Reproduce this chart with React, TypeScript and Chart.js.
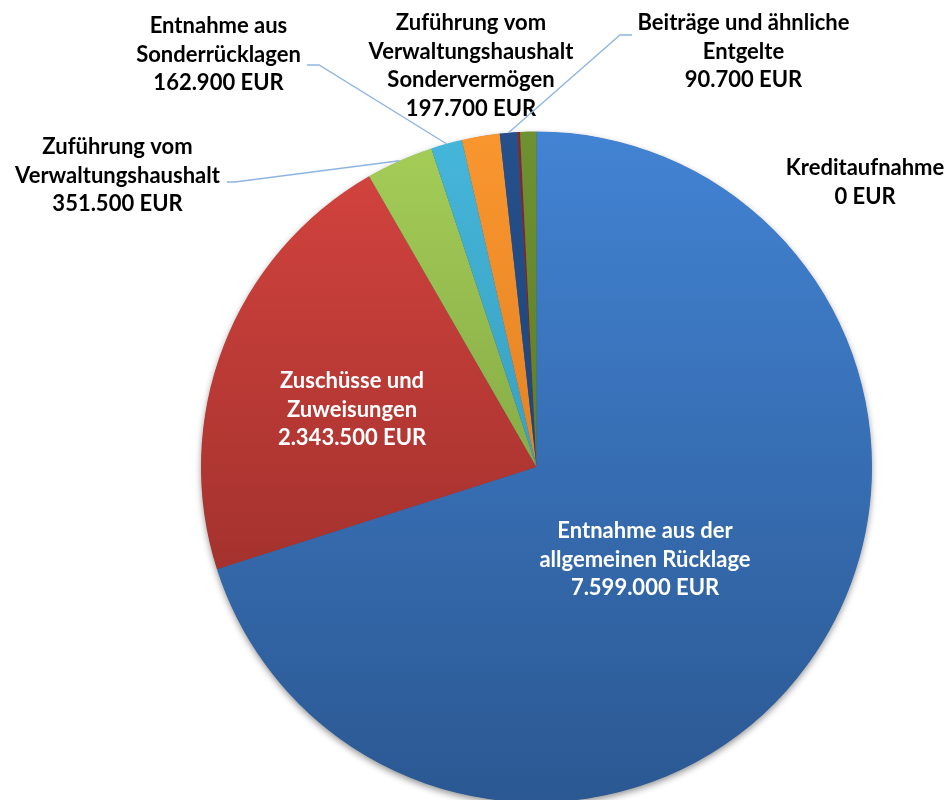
import { useEffect, useRef } from "react";
import { Chart, registerables } from "chart.js";

Chart.register(...registerables);

// ---- data ----
const categories = [
  "Entnahme aus der allgemeinen Rücklage",
  "Zuschüsse und Zuweisungen",
  "Zuführung vom Verwaltungshaushalt",
  "Kreditaufnahme",
  "Entnahme aus Sonderrücklagen",
  "Zuführung vom Verwaltungshaushalt Sondervermögen",
  "Beiträge und ähnliche Entgelte",
  "Sonstige Einnahmen",
  "Weitere Einnahmen",
];
const values = [7599000, 2343500, 351500, 0, 162900, 197700, 90700, 14000, 85000];
const labelLines: string[][] = [
  ["Entnahme aus der", "allgemeinen Rücklage"],
  ["Zuschüsse und", "Zuweisungen"],
  ["Zuführung vom", "Verwaltungshaushalt"],
  ["Kreditaufnahme"],
  ["Entnahme aus", "Sonderrücklagen"],
  ["Zuführung vom", "Verwaltungshaushalt", "Sondervermögen"],
  ["Beiträge und ähnliche", "Entgelte"],
  [],
  [],
];
const currency = "EUR";

// ---- styles ----
const colorsLight = ["#4283D3", "#D6443F", "#A5CE58", "#8064A2", "#45B6DA", "#F9962E", "#25508C", "#8E2522", "#6E9230"];
const colorsDark = ["#2B5892", "#8A2825", "#6A8A35", "#5E4A7A", "#2E8AA8", "#D0701A", "#1A3A68", "#6A1A18", "#4E6A20"];

// label placement relative to pie centre (px): dx = text centre, dy = first line centre
type LabelLayout = { dx: number; dy: number; color: string; leader?: [number, number][] } | null;
const labelLayout: LabelLayout[] = [
  { dx: 108.5, dy: 64, color: "#ffffff" },
  { dx: -184.5, dy: -86, color: "#ffffff" },
  { dx: -419, dy: -320, color: "#000000", leader: [[-301.5, -285], [-309.5, -285]] },
  { dx: 328.5, dy: -299, color: "#000000" },
  { dx: -318, dy: -441, color: "#000000", leader: [[-217.5, -402], [-229.5, -402]] },
  { dx: -65.5, dy: -444, color: "#000000" },
  { dx: 207, dy: -444, color: "#000000", leader: [[83.5, -432], [95.5, -432]] },
  null,
  null,
];
const FONT = "bold 22px Lato, 'Open Sans', sans-serif";
const LINE_H = 28.5;

function fmt(v: number): string {
  return String(Math.round(v)).replace(/\B(?=(\d{3})+(?!\d))/g, ".");
}

const shadowPlugin = {
  id: "pieShadow",
  beforeDatasetsDraw(chart: any) {
    const meta = chart.getDatasetMeta(0);
    const arc = meta.data[0];
    if (!arc) return;
    const { x, y, outerRadius } = arc.getProps(["x", "y", "outerRadius"], true);
    const ctx = chart.ctx;
    ctx.save();
    ctx.shadowColor = "rgba(0,0,0,0.45)";
    ctx.shadowBlur = 7;
    ctx.shadowOffsetX = 0;
    ctx.shadowOffsetY = 3;
    ctx.beginPath();
    ctx.arc(x, y, outerRadius - 0.5, 0, Math.PI * 2);
    ctx.fillStyle = "#2B5892";
    ctx.fill();
    ctx.restore();
  },
};

const labelPlugin = {
  id: "pieLabels",
  afterDatasetsDraw(chart: any) {
    const meta = chart.getDatasetMeta(0);
    const ctx = chart.ctx;
    meta.data.forEach((arc: any, i: number) => {
      const lay = labelLayout[i];
      if (!lay) return;
      const { x, y, startAngle, endAngle, outerRadius } = arc.getProps(
        ["x", "y", "startAngle", "endAngle", "outerRadius"],
        true
      );
      if (lay.leader) {
        const mid = (startAngle + endAngle) / 2;
        ctx.save();
        ctx.strokeStyle = "#8EB4E3";
        ctx.lineWidth = 1.3;
        ctx.beginPath();
        ctx.moveTo(x + Math.cos(mid) * outerRadius, y + Math.sin(mid) * outerRadius);
        lay.leader.forEach(([lx, ly]) => ctx.lineTo(x + lx, y + ly));
        ctx.stroke();
        ctx.restore();
      }
      const lines = [...labelLines[i], fmt(values[i]) + " " + currency];
      ctx.save();
      ctx.font = FONT;
      ctx.fillStyle = lay.color;
      ctx.textAlign = "center";
      ctx.textBaseline = "middle";
      lines.forEach((t, k) => ctx.fillText(t, x + lay.dx, y + lay.dy + k * LINE_H));
      ctx.restore();
    });
  },
};

export default function App() {
  const ref = useRef<HTMLCanvasElement | null>(null);
  useEffect(() => {
    if (!ref.current) return;
    const chart = new Chart(ref.current, {
      type: "pie",
      data: {
        labels: categories,
        datasets: [
          {
            data: values,
            borderWidth: 0,
            backgroundColor: (c: any) => {
              const area = c.chart.chartArea;
              const i = c.dataIndex;
              if (!area) return colorsLight[i];
              const g = c.chart.ctx.createLinearGradient(0, area.top, 0, area.bottom);
              g.addColorStop(0, colorsLight[i]);
              g.addColorStop(1, colorsDark[i]);
              return g;
            },
          },
        ],
      },
      options: {
        responsive: false,
        animation: false,
        devicePixelRatio: 1,
        events: [],
        layout: { padding: { left: 201, right: 80, top: 131.5, bottom: 7.5 } },
        plugins: {
          legend: { display: false },
          tooltip: { enabled: false },
          title: { display: false },
        },
      },
      plugins: [shadowPlugin, labelPlugin],
    });
    return () => chart.destroy();
  }, []);
  return (
    <div style={{ position: "absolute", left: 0, top: 0, width: 952, height: 800, overflow: "hidden", background: "#fff" }}>
      <canvas ref={ref} width={952} height={810} style={{ display: "block" }} />
    </div>
  );
}
